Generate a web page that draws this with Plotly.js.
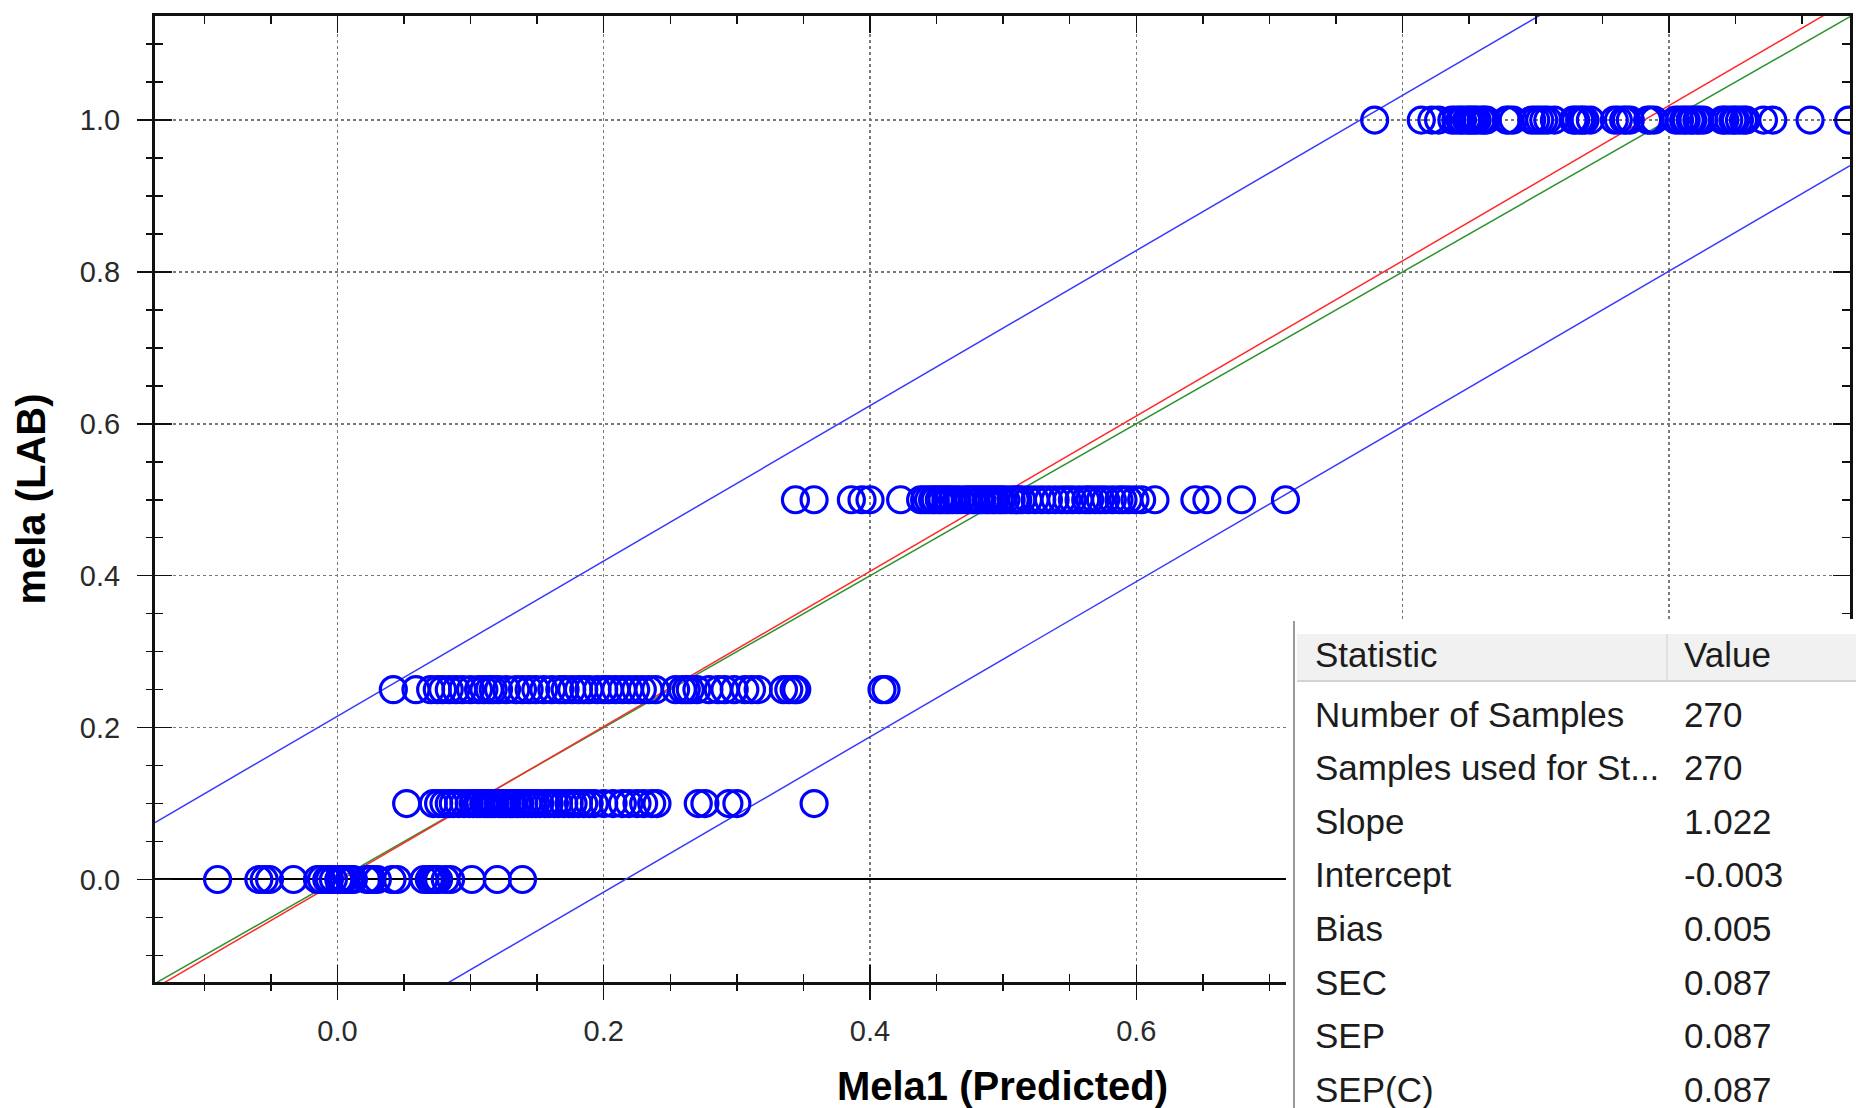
<!DOCTYPE html>
<html>
<head>
<meta charset="utf-8">
<script src="https://cdn.plot.ly/plotly-3.0.1.min.js"></script>
<style>
  html, body { margin: 0; padding: 0; background: #ffffff; }
  #chart { width: 1856px; height: 1108px; }
</style>
</head>
<body>
<div id="chart"></div>
<script>
// ---------------- data ----------------
// predicted values (x) for each reference level (y)
const levels = [0.0, 0.1, 0.25, 0.5, 1.0];

const predAt0 = [-0.090, -0.059, -0.055, -0.051, -0.033, -0.015, -0.012, -0.008, -0.006, -0.003,
  0.001, 0.003, 0.005, 0.009, 0.010, 0.012, 0.022, 0.024, 0.026, 0.030, 0.041, 0.045,
  0.065, 0.069, 0.070, 0.072, 0.074, 0.076, 0.081, 0.085, 0.101, 0.120, 0.139];

const predAt01 = [0.052, 0.072, 0.076, 0.080, 0.084, 0.087, 0.091, 0.095, 0.099, 0.102,
  0.105, 0.107, 0.110, 0.112, 0.114, 0.116, 0.118, 0.121, 0.123, 0.125, 0.127, 0.130,
  0.132, 0.135, 0.137, 0.140, 0.143, 0.146, 0.149, 0.152, 0.156, 0.159, 0.163, 0.166,
  0.170, 0.174, 0.177, 0.181, 0.185, 0.189, 0.193, 0.200, 0.207, 0.214, 0.219, 0.225,
  0.230, 0.236, 0.240, 0.271, 0.276, 0.294, 0.300, 0.358];

const predAt025 = [0.042, 0.059, 0.070, 0.075, 0.079, 0.084, 0.089, 0.094, 0.100, 0.106,
  0.110, 0.114, 0.117, 0.121, 0.127, 0.134, 0.139, 0.144, 0.149, 0.155, 0.161, 0.167,
  0.171, 0.176, 0.181, 0.185, 0.189, 0.195, 0.200, 0.204, 0.209, 0.214, 0.219, 0.224,
  0.229, 0.234, 0.239, 0.254, 0.259, 0.262, 0.265, 0.270, 0.279, 0.286, 0.291, 0.298,
  0.306, 0.311, 0.316, 0.335, 0.339, 0.343, 0.345, 0.409, 0.412];

const predAt05 = [0.344, 0.358, 0.386, 0.394, 0.400, 0.423, 0.438, 0.441, 0.444, 0.447,
  0.449, 0.452, 0.454, 0.457, 0.459, 0.462, 0.465, 0.468, 0.472, 0.474, 0.477, 0.479,
  0.482, 0.484, 0.487, 0.489, 0.492, 0.494, 0.497, 0.499, 0.502, 0.506, 0.509, 0.511,
  0.514, 0.519, 0.524, 0.529, 0.534, 0.539, 0.544, 0.548, 0.552, 0.557, 0.562, 0.565,
  0.569, 0.573, 0.577, 0.582, 0.587, 0.590, 0.594, 0.599, 0.604, 0.614, 0.644, 0.653,
  0.679, 0.712];

const predAt1 = [0.779, 0.814, 0.822, 0.827, 0.837, 0.840, 0.843, 0.845, 0.848, 0.850,
  0.852, 0.854, 0.856, 0.859, 0.861, 0.863, 0.878, 0.880, 0.883, 0.897, 0.900, 0.903,
  0.906, 0.909, 0.914, 0.928, 0.930, 0.933, 0.935, 0.937, 0.941, 0.959, 0.962, 0.966,
  0.968, 0.971, 0.984, 0.986, 0.989, 1.005, 1.008, 1.011, 1.013, 1.016, 1.018, 1.021,
  1.023, 1.026, 1.040, 1.042, 1.045, 1.048, 1.050, 1.053, 1.056, 1.058, 1.071, 1.078,
  1.106, 1.135];

const predGroups = [predAt0, predAt01, predAt025, predAt05, predAt1];

// statistics table
const statNames = ["Number of Samples", "Samples used for St...", "Slope", "Intercept",
  "Bias", "SEC", "SEP", "SEP(C)"];
const statValues = ["270", "270", "1.022", "-0.003", "0.005", "0.087", "0.087", "0.087"];

// regression line and limit lines
const slope = 1.022;
const intercept = -0.003;
const limitOffset = 0.218;

// axis ranges and ticks
const xRange = [-0.137, 1.136];
const yRange = [-0.135, 1.137];
const xTickVals = [0.0, 0.2, 0.4, 0.6, 0.8, 1.0];
const xTickText = ['0.0', '0.2', '0.4', '0.6', '', ''];   // 0.8 and 1.0 hidden behind the table
const majorStep = 0.2;
const minorStep = 0.05;

// ---------------- build traces ----------------
const px = [], py = [];
predGroups.forEach((g, i) => g.forEach(v => { px.push(v); py.push(levels[i]); }));

const lineX = xRange.slice();
const traces = [
  { type: 'scatter', mode: 'lines', x: lineX, y: lineX.map(v => slope * v + intercept + limitOffset),
    line: { color: '#3a3aff', width: 1.5 }, hoverinfo: 'skip', showlegend: false },
  { type: 'scatter', mode: 'lines', x: lineX, y: lineX.map(v => slope * v + intercept - limitOffset),
    line: { color: '#3a3aff', width: 1.5 }, hoverinfo: 'skip', showlegend: false },
  { type: 'scatter', mode: 'lines', x: lineX, y: lineX.map(v => v),
    line: { color: '#2e922e', width: 1.5 }, hoverinfo: 'skip', showlegend: false },
  { type: 'scatter', mode: 'lines', x: lineX, y: lineX.map(v => slope * v + intercept),
    line: { color: '#ff2a2a', width: 1.5 }, hoverinfo: 'skip', showlegend: false },
  { type: 'scatter', mode: 'markers', x: px, y: py,
    marker: { symbol: 'circle-open', size: 26, color: '#0000ff', line: { width: 3.2, color: '#0000ff' } },
    showlegend: false },
  // carrier for the overlaid outside-tick axes
  { type: 'scatter', mode: 'markers', x: [], y: [], xaxis: 'x2', yaxis: 'y2', showlegend: false }
];

// ---------------- layout ----------------
const W = 1856, H = 1108;
const M = { l: 155, r: 6, t: 16, b: 126 };
const plotW = W - M.l - M.r, plotH = H - M.t - M.b;
const PX = p => (p - M.l) / plotW;          // page pixel -> paper x
const PY = p => (H - M.b - p) / plotH;      // page pixel -> paper y

const tickFont = { family: 'Liberation Sans, Arial, sans-serif', size: 29, color: '#2a2a2a' };
const titleFont = { family: 'Liberation Sans, Arial, sans-serif', size: 40, color: '#000000', weight: 'bold' };

const commonMain = {
  showline: true, linecolor: '#111111', linewidth: 3, mirror: 'ticks',
  ticks: 'inside', ticklen: 17, tickwidth: 1.5, tickcolor: '#111111',
  minor: { ticks: 'inside', ticklen: 8, tickwidth: 1.5, tickcolor: '#111111', dtick: minorStep, tick0: 0, showgrid: false },
  showgrid: true, gridcolor: '#7a7a7a', gridwidth: 1.5, griddash: 'dot',
  tickfont: tickFont, automargin: false, fixedrange: true
};
const commonOverlay = {
  showline: false, showgrid: false, zeroline: false, showticklabels: false,
  ticks: 'outside', ticklen: 17, tickwidth: 1.5, tickcolor: '#111111',
  dtick: majorStep, tick0: 0,
  minor: { ticks: 'outside', ticklen: 8, tickwidth: 1.5, tickcolor: '#111111', dtick: minorStep, tick0: 0, showgrid: false },
  automargin: false, fixedrange: true
};

const shapes = [
  // table background covering the lower-right corner of the plot
  { type: 'rect', xref: 'paper', yref: 'paper', layer: 'above',
    x0: PX(1286), x1: PX(1860), y0: PY(619), y1: PY(1112),
    fillcolor: '#ffffff', line: { width: 0 } },
  // header band
  { type: 'rect', xref: 'paper', yref: 'paper', layer: 'above',
    x0: PX(1297), x1: PX(1860), y0: PY(634), y1: PY(681),
    fillcolor: '#f1f1f1', line: { width: 0 } },
  { type: 'line', xref: 'paper', yref: 'paper', layer: 'above',
    x0: PX(1297), x1: PX(1860), y0: PY(681), y1: PY(681),
    line: { color: '#d3d3d3', width: 2 } },
  { type: 'line', xref: 'paper', yref: 'paper', layer: 'above',
    x0: PX(1667), x1: PX(1667), y0: PY(634), y1: PY(681),
    line: { color: '#dadada', width: 1.5 } },
  // table left border
  { type: 'line', xref: 'paper', yref: 'paper', layer: 'above',
    x0: PX(1294), x1: PX(1294), y0: PY(621), y1: PY(1112),
    line: { color: '#9a9a9a', width: 2 } }
];

const tableFont = { family: 'Liberation Sans, Arial, sans-serif', size: 35, color: '#1c1c1c' };
const annotations = [
  { text: 'Statistic', x: PX(1313), y: PY(654) },
  { text: 'Value', x: PX(1682), y: PY(654) }
];
const rowY0 = 714, rowStep = 53.6;
statNames.forEach((n, i) => {
  annotations.push({ text: n, x: PX(1313), y: PY(rowY0 + i * rowStep) });
  annotations.push({ text: statValues[i], x: PX(1682), y: PY(rowY0 + i * rowStep) });
});
annotations.forEach(a => Object.assign(a, {
  xref: 'paper', yref: 'paper', xanchor: 'left', yanchor: 'middle',
  showarrow: false, font: tableFont
}));

const layout = {
  width: W, height: H,
  margin: M,
  paper_bgcolor: '#ffffff', plot_bgcolor: '#ffffff',
  showlegend: false,
  xaxis: Object.assign({}, commonMain, {
    range: xRange, zeroline: false, side: 'bottom', anchor: 'y',
    tickmode: 'array', tickvals: xTickVals, ticktext: xTickText,
    ticklabelstandoff: 21,
    title: { text: 'Mela1 (Predicted)', font: titleFont, standoff: 27 }
  }),
  yaxis: Object.assign({}, commonMain, {
    range: yRange, dtick: majorStep, tick0: 0, tickformat: '.1f',
    zeroline: true, zerolinecolor: '#000000', zerolinewidth: 2,
    side: 'left', anchor: 'x',
    ticklabelstandoff: 26,
    title: { text: 'mela (LAB)', font: titleFont, standoff: 22 }
  }),
  xaxis2: Object.assign({}, commonOverlay, { range: xRange, overlaying: 'x', anchor: 'y2', side: 'bottom' }),
  yaxis2: Object.assign({}, commonOverlay, { range: yRange, overlaying: 'y', anchor: 'x2', side: 'left' }),
  shapes: shapes,
  annotations: annotations,
  hovermode: false
};

Plotly.newPlot('chart', traces, layout, { displayModeBar: false, staticPlot: true });
</script>
</body>
</html>
